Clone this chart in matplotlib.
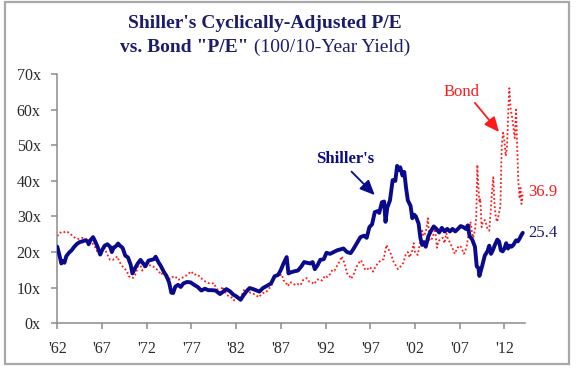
import matplotlib
matplotlib.use("Agg")
import matplotlib.pyplot as plt
from matplotlib.patches import Rectangle

# ---------------- data ----------------
shiller_years = [
    1962.0, 1962.1, 1962.25, 1962.45, 1962.6, 1962.8, 1963.0, 1963.3, 1963.6, 1963.9,
    1964.2, 1964.5, 1964.8, 1965.1, 1965.4, 1965.5, 1965.7, 1966.0, 1966.2, 1966.5,
    1966.8, 1967.0, 1967.3, 1967.6, 1967.9, 1968.1, 1968.3, 1968.5, 1968.8, 1969.0,
    1969.3, 1969.6, 1969.9, 1970.2, 1970.4, 1970.7, 1971.0, 1971.3, 1971.6, 1971.85,
    1972.2, 1972.5, 1972.8, 1973.0, 1973.3, 1973.6, 1973.9, 1974.2, 1974.5, 1974.75,
    1974.95, 1975.2, 1975.5, 1975.8, 1976.1, 1976.5, 1976.9, 1977.3, 1977.7, 1978.1,
    1978.5, 1978.9, 1979.3, 1979.7, 1980.2, 1980.5, 1980.9, 1981.3, 1981.7, 1982.0,
    1982.5, 1982.8, 1983.1, 1983.5, 1983.9, 1984.3, 1984.6, 1985.0, 1985.5, 1985.9,
    1986.3, 1986.7, 1987.0, 1987.3, 1987.65, 1987.85, 1988.1, 1988.5, 1988.9, 1989.3,
    1989.6, 1989.9, 1990.3, 1990.55, 1990.8, 1991.1, 1991.4, 1991.8, 1992.1, 1992.5,
    1992.9, 1993.3, 1993.7, 1994.0, 1994.4, 1994.8, 1995.1, 1995.5, 1995.9, 1996.3,
    1996.6, 1996.9, 1997.2, 1997.5, 1997.8, 1998.0, 1998.3, 1998.55, 1998.7, 1998.9,
    1999.2, 1999.5, 1999.8, 2000.0, 2000.2, 2000.35, 2000.6, 2000.8, 2001.0, 2001.2,
    2001.5, 2001.7, 2001.9, 2002.1, 2002.4, 2002.6, 2002.8, 2003.0, 2003.2, 2003.5,
    2003.8, 2004.1, 2004.4, 2004.7, 2005.0, 2005.3, 2005.6, 2005.9, 2006.2, 2006.5,
    2006.8, 2007.1, 2007.4, 2007.7, 2007.9, 2008.1, 2008.4, 2008.7, 2008.9, 2009.1,
    2009.2, 2009.5, 2009.8, 2010.1, 2010.3, 2010.5, 2010.7, 2010.9, 2011.2, 2011.4,
    2011.6, 2011.8, 2012.0, 2012.2, 2012.4, 2012.6, 2012.8, 2013.0, 2013.3, 2013.5,
    2013.7, 2013.9, 2014.05,
]
shiller_pe = [
    21.5, 20.5, 19.0, 16.8, 17.5, 17.0, 18.8, 19.8, 20.5, 21.5,
    22.3, 22.8, 23.0, 23.3, 23.0, 22.2, 23.3, 24.2, 23.2, 21.5,
    19.3, 20.5, 21.8, 22.2, 21.5, 20.0, 21.3, 21.5, 22.4, 21.8,
    21.2, 19.0, 18.5, 16.5, 14.0, 15.5, 16.8, 17.8, 16.8, 16.0,
    17.6, 17.8, 18.0, 18.7, 17.2, 16.0, 14.5, 13.3, 11.5, 8.6,
    8.5, 10.3, 10.8, 10.2, 11.2, 11.6, 11.5, 10.8, 10.2, 9.2,
    9.7, 9.3, 9.3, 9.2, 8.2, 8.8, 9.6, 9.0, 8.0, 7.6,
    6.6, 7.8, 8.8, 9.9, 9.6, 9.2, 8.9, 9.9, 10.6, 11.2,
    13.2, 13.6, 15.0, 16.8, 18.6, 14.0, 14.3, 14.6, 14.8, 16.0,
    17.2, 17.0, 16.8, 17.2, 15.2, 16.3, 17.8, 18.0, 19.8, 19.5,
    20.0, 20.5, 20.8, 21.0, 20.0, 19.7, 20.8, 22.5, 24.2, 24.6,
    24.0, 27.0, 27.8, 31.2, 31.5, 31.0, 34.0, 34.2, 28.5, 32.5,
    34.5, 40.2, 40.0, 44.2, 43.0, 43.8, 41.5, 42.5, 38.0, 34.5,
    33.0, 29.5, 30.5, 30.0, 28.0, 24.0, 22.0, 22.8, 21.5, 24.5,
    26.0, 27.2, 26.5, 25.5, 26.8, 25.8, 26.5, 25.8, 26.5, 25.8,
    26.5, 27.3, 27.0, 26.5, 27.5, 24.5, 23.5, 21.5, 16.0, 15.5,
    13.3, 16.0, 19.0, 20.2, 21.8, 19.5, 20.5, 21.8, 23.5, 23.0,
    20.5, 20.2, 21.0, 22.5, 21.0, 21.8, 21.5, 22.0, 23.3, 23.0,
    23.8, 24.8, 25.4,
]

bond_years = [
    1962.0, 1962.3, 1962.6, 1962.9, 1963.2, 1963.5, 1963.8, 1964.1, 1964.4, 1964.8,
    1965.1, 1965.5, 1965.9, 1966.2, 1966.5, 1966.7, 1966.9, 1967.2, 1967.5, 1967.9,
    1968.2, 1968.5, 1968.7, 1968.9, 1969.2, 1969.5, 1969.8, 1970.0, 1970.3, 1970.5,
    1970.8, 1971.0, 1971.2, 1971.5, 1971.7, 1971.9, 1972.2, 1972.5, 1972.8, 1973.0,
    1973.3, 1973.6, 1973.9, 1974.3, 1974.6, 1974.9, 1975.2, 1975.5, 1975.8, 1976.2,
    1976.5, 1976.95, 1977.3, 1977.6, 1977.9, 1978.2, 1978.5, 1978.9, 1979.2, 1979.5,
    1979.8, 1980.1, 1980.2, 1980.45, 1980.7, 1980.95, 1981.3, 1981.5, 1981.75, 1981.95,
    1982.2, 1982.5, 1982.8, 1982.95, 1983.3, 1983.6, 1983.9, 1984.2, 1984.5, 1984.8,
    1985.0, 1985.3, 1985.6, 1985.9, 1986.2, 1986.35, 1986.6, 1986.9, 1987.1, 1987.3,
    1987.5, 1987.8, 1988.0, 1988.3, 1988.6, 1988.9, 1989.2, 1989.5, 1989.9, 1990.2,
    1990.5, 1990.75, 1991.0, 1991.3, 1991.6, 1991.95, 1992.2, 1992.5, 1992.75, 1993.0,
    1993.3, 1993.6, 1993.8, 1994.1, 1994.4, 1994.6, 1994.85, 1995.1, 1995.5, 1995.9,
    1996.1, 1996.4, 1996.6, 1996.9, 1997.2, 1997.3, 1997.6, 1997.9, 1998.2, 1998.5,
    1998.8, 1999.0, 1999.3, 1999.6, 1999.9, 2000.1, 2000.4, 2000.7, 2000.95, 2001.2,
    2001.4, 2001.7, 2001.85, 2002.0, 2002.3, 2002.6, 2002.8, 2002.95, 2003.2, 2003.45,
    2003.6, 2003.8, 2004.0, 2004.25, 2004.45, 2004.6, 2004.9, 2005.1, 2005.3, 2005.5,
    2005.7, 2005.95, 2006.2, 2006.45, 2006.7, 2006.95, 2007.2, 2007.45, 2007.6, 2007.8,
    2008.0, 2008.2, 2008.35, 2008.5, 2008.7, 2008.85, 2008.97, 2009.05, 2009.2, 2009.3,
    2009.45, 2009.6, 2009.8, 2009.95, 2010.1, 2010.3, 2010.45, 2010.6, 2010.75, 2010.9,
    2011.05, 2011.2, 2011.4, 2011.55, 2011.7, 2011.85, 2012.0, 2012.15, 2012.3, 2012.45,
    2012.55, 2012.7, 2012.85, 2013.0, 2013.15, 2013.3, 2013.45, 2013.55, 2013.7, 2013.8,
    2013.9, 2014.0, 2014.05,
]
bond_pe = [
    24.5, 25.5, 25.3, 25.8, 25.6, 25.0, 24.3, 23.8, 23.7, 24.0,
    23.8, 23.5, 22.6, 21.5, 20.0, 19.3, 20.5, 21.8, 19.8, 17.8,
    17.8, 18.3, 18.8, 17.5, 16.2, 15.5, 14.5, 13.2, 12.7, 12.8,
    14.0, 16.0, 17.0, 14.8, 15.5, 16.7, 16.2, 16.3, 15.8, 15.4,
    14.8, 13.6, 14.6, 13.5, 12.4, 13.0, 13.2, 12.2, 12.4, 13.2,
    13.5, 14.6, 13.6, 13.8, 13.2, 12.4, 11.8, 11.3, 11.1, 11.3,
    9.8, 9.0, 8.1, 10.3, 9.2, 7.9, 7.6, 7.2, 6.4, 7.2,
    7.0, 7.1, 9.0, 9.6, 9.5, 8.5, 8.3, 8.0, 7.3, 8.0,
    8.5, 8.6, 9.5, 10.4, 12.3, 13.6, 13.2, 13.5, 13.8, 12.0,
    11.7, 10.4, 11.5, 11.4, 10.7, 11.0, 10.7, 12.2, 12.7, 11.6,
    11.4, 11.0, 12.2, 12.4, 12.0, 13.4, 13.0, 13.8, 15.0, 14.8,
    16.2, 17.5, 18.8, 17.0, 14.0, 13.6, 12.5, 13.5, 16.0, 17.7,
    17.2, 15.2, 14.9, 15.8, 15.2, 14.5, 16.0, 17.0, 17.8, 18.0,
    22.0, 21.0, 19.5, 17.3, 16.0, 15.2, 16.0, 17.0, 19.2, 20.0,
    18.5, 20.5, 22.5, 19.8, 19.2, 23.0, 26.0, 24.5, 25.5, 29.5,
    23.5, 23.2, 24.5, 26.5, 21.2, 23.0, 23.8, 24.0, 22.5, 25.3,
    23.5, 22.5, 21.0, 19.5, 21.0, 21.8, 21.3, 19.5, 20.0, 22.0,
    25.0, 28.5, 26.0, 24.0, 26.0, 30.0, 44.5, 40.0, 34.0, 35.0,
    27.0, 28.5, 29.0, 28.0, 26.5, 26.0, 31.0, 36.5, 41.0, 33.0,
    29.5, 28.5, 31.0, 33.0, 50.0, 53.5, 51.0, 47.0, 50.0, 61.0,
    66.0, 60.0, 58.0, 55.0, 52.0, 60.0, 48.0, 40.0, 35.0, 38.0,
    33.5, 35.0, 36.9,
]

xtick_years = [1962, 1967, 1972, 1977, 1982, 1987, 1992, 1997, 2002, 2007, 2012]
xtick_labels = ["'62", "'67", "'72", "'77", "'82", "'87", "'92", "'97", "'02", "'07", "'12"]
ytick_vals = [0, 10, 20, 30, 40, 50, 60, 70]
ytick_labels = ["0x", "10x", "20x", "30x", "40x", "50x", "60x", "70x"]

last_shiller_label = "25.4"
last_bond_label = "36.9"

# ---------------- styling ----------------
NAVY = "#0A0A8C"
TITLE_NAVY = "#1C1C6B"
RED = "#FF1A1A"
SERIF = ["Liberation Serif", "DejaVu Serif"]
plt.rcParams["font.family"] = SERIF

W, H = 576, 372
fig = plt.figure(figsize=(W / 100, H / 100), dpi=100)
fig.patch.set_facecolor("white")

# outer border
fig.patches.append(Rectangle((5 / W, 1 - 364 / H), 564 / W, 362 / H, transform=fig.transFigure,
                             fill=False, edgecolor="#A8A8A8", linewidth=1.6))

ax = fig.add_axes([57.3 / W, 1 - 323.3 / H, (525 - 57.3) / W, (323.3 - 74) / H])
ax.set_xlim(1962, 2014.3)
ax.set_ylim(0, 70)

ax.plot(bond_years, bond_pe, color=RED, linestyle=(0, (1, 1.3)), linewidth=1.3, zorder=2)
ax.plot(shiller_years, shiller_pe, color=NAVY, linewidth=2.8, solid_joinstyle="round",
        solid_capstyle="round", zorder=3)

for s in ["top", "right"]:
    ax.spines[s].set_visible(False)
for s in ["left", "bottom"]:
    ax.spines[s].set_color("#8C8C8C")
    ax.spines[s].set_linewidth(1.1)

ax.set_xticks(xtick_years)
ax.set_xticklabels(xtick_labels)
ax.set_yticks(ytick_vals)
ax.set_yticklabels(ytick_labels)
ax.tick_params(axis="both", colors="#8C8C8C", labelcolor="#2A2A2A", labelsize=11.5,
               length=4, width=1.1, direction="out")
ax.tick_params(axis="y", pad=8)
ax.tick_params(axis="x", pad=9)

# end labels
ax.text(2014.65, 36.9, last_bond_label, color=RED, fontsize=12, va="center", ha="left", clip_on=False)
ax.text(2014.65, 25.4, last_shiller_label, color=TITLE_NAVY, fontsize=12, va="center", ha="left",
        clip_on=False)

# annotations
ax.annotate("", xy=(1997.5, 36.0), xytext=(1994.9, 42.6),
            arrowprops=dict(arrowstyle="-|>,head_length=0.9,head_width=0.4", color=NAVY, lw=1.3,
                            shrinkA=0, shrinkB=0))
ax.text(1994.2, 46.1, "Shiller's", color=NAVY, fontsize=12, fontweight="bold", ha="center", va="center")

ax.annotate("", xy=(2011.4, 53.7), xytext=(2008.7, 61.9),
            arrowprops=dict(arrowstyle="-|>,head_length=0.9,head_width=0.4", color=RED, lw=1.3,
                            shrinkA=0, shrinkB=0))
ax.text(2007.2, 64.9, "Bond", color=RED, fontsize=12, ha="center", va="center")

# title
cx = 265 / W
fig.text(cx, 1 - 24 / H, "Shiller's Cyclically-Adjusted P/E", color=TITLE_NAVY, fontsize=14,
         fontweight="bold", ha="center", va="center")
renderer = fig.canvas.get_renderer()
part1 = 'vs. Bond "P/E"'
part2 = " (100/10-Year Yield)"
t1 = fig.text(0, 1 - 47 / H, part1, color=TITLE_NAVY, fontsize=14, fontweight="bold",
              ha="left", va="center")
t2 = fig.text(0, 1 - 47 / H, part2, color=TITLE_NAVY, fontsize=14, ha="left", va="center")
w1 = t1.get_window_extent(renderer).width / W
w2 = t2.get_window_extent(renderer).width / W
start = cx - (w1 + w2) / 2
t1.set_x(start)
t2.set_x(start + w1)

fig.savefig("out.png", dpi=100, facecolor="white")
